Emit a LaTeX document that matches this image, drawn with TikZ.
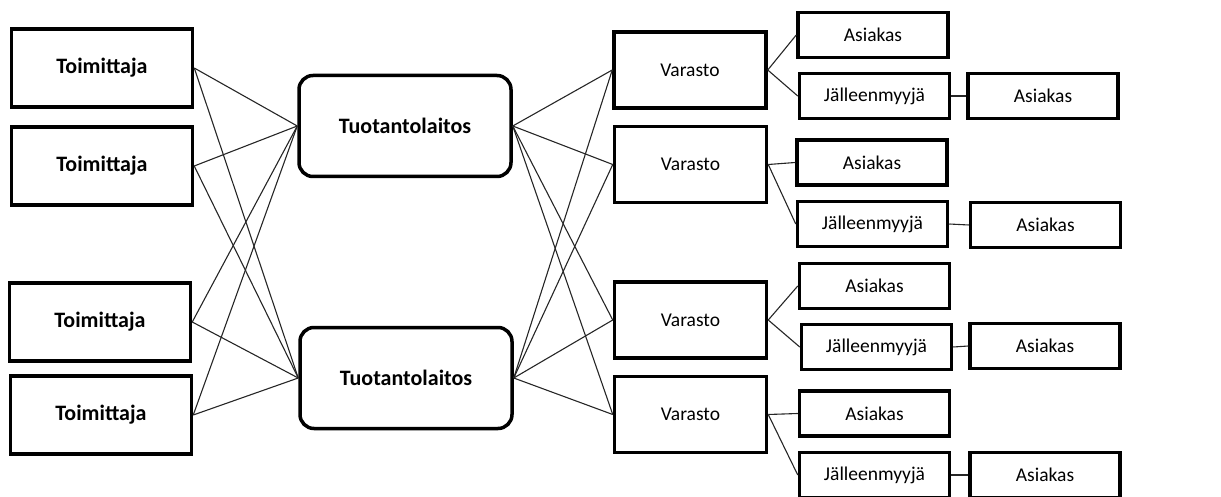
\documentclass[tikz,border=0pt]{standalone}
\usepackage{fontspec}
\setmainfont{Carlito}
\begin{document}
\begin{tikzpicture}[x=1pt,y=-1pt,
  box/.style={draw=black,line width=3.5pt,fill=white,inner sep=0pt,font=\fontsize{19.5}{22}\selectfont},
  supplier/.style={box,minimum width=181pt,minimum height=78pt,font=\fontsize{22}{24}\selectfont\bfseries},
  plant/.style={box,rounded corners=14pt,minimum width=212pt,minimum height=101pt,font=\fontsize{22}{24}\selectfont\bfseries},
  store/.style={box,minimum width=152pt,minimum height=76pt},
  small/.style={box,minimum width=150pt,minimum height=45pt},
  link/.style={draw=black!85,line width=1.1pt}]
\useasboundingbox (0,0) rectangle (1221,497);
% nodes
\node[supplier] (t1) at (102,68) {Toimittaja};
\node[supplier] (t2) at (102,166) {Toimittaja};
\node[supplier] (t3) at (100,322) {Toimittaja};
\node[supplier] (t4) at (101,415) {Toimittaja};
\node[plant] (p1) at (405,126) {Tuotantolaitos};
\node[plant] (p2) at (406,378) {Tuotantolaitos};
\node[store] (v1) at (690,70) {Varasto};
\node[store] (v2) at (690.5,164.5) {Varasto};
\node[store] (v3) at (690.5,320) {Varasto};
\node[store] (v4) at (690.5,414.5) {Varasto};
\node[small] (a1) at (873,35) {Asiakas};
\node[small] (j1) at (874.5,96) {Jälleenmyyjä};
\node[small] (aa1) at (1043,96) {Asiakas};
\node[small] (a2) at (872,162.5) {Asiakas};
\node[small] (j2) at (872.5,224) {Jälleenmyyjä};
\node[small] (aa2) at (1045.5,225) {Asiakas};
\node[small] (a3) at (874.5,286) {Asiakas};
\node[small] (j3) at (876.5,347) {Jälleenmyyjä};
\node[small] (aa3) at (1045,346) {Asiakas};
\node[small] (a4) at (874.5,413.5) {Asiakas};
\node[small] (j4) at (874.5,475) {Jälleenmyyjä};
\node[small] (aa4) at (1045,475) {Asiakas};
% connectors
\foreach \t in {t1,t2,t3,t4}{
  \foreach \p in {p1,p2}{\draw[link] (\t.east) -- (\p.west);}}
\foreach \p in {p1,p2}{
  \foreach \v in {v1,v2,v3,v4}{\draw[link] (\p.east) -- (\v.west);}}
\foreach \v/\a/\j/\aa in {v1/a1/j1/aa1,v2/a2/j2/aa2,v3/a3/j3/aa3,v4/a4/j4/aa4}{
  \draw[link] (\v.east) -- (\a.west);
  \draw[link] (\v.east) -- (\j.west);
  \draw[link] (\j.east) -- (\aa.west);}
\end{tikzpicture}
\end{document}
